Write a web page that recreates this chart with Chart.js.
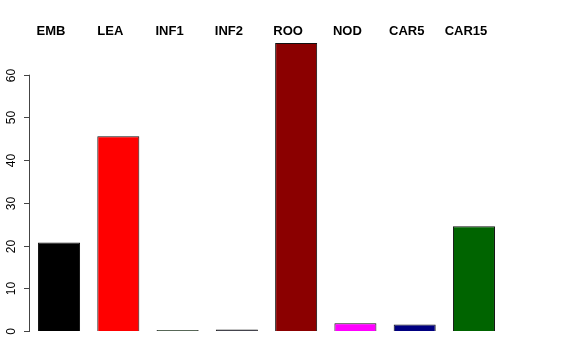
<!DOCTYPE html>
<html>
<head>
<meta charset="utf-8">
<script src="https://cdn.jsdelivr.net/npm/chart.js@4"></script>
<style>
  html, body { margin: 0; padding: 0; background: #fff; }
  #wrap { width: 576px; height: 360px; }
</style>
</head>
<body>
<div id="wrap"><canvas id="chart" width="576" height="360"></canvas></div>
<script>
// data
var categorias = ["EMB", "LEA", "INF1", "INF2", "ROO", "NOD", "CAR5", "CAR15"];
var valores = [20.7, 45.6, 0.25, 0.35, 67.4, 1.8, 1.5, 24.5];
var cores = ["#000000", "#ff0000", "#2a4a2a", "#1a1a26", "#8b0000", "#ff00ff", "#000080", "#006400"];
var yTicks = [0, 10, 20, 30, 40, 50, 60];

// draws the R-style left axis and the row of labels at the top
var eixoR = {
    id: "eixoR",
    afterDraw: function(chart) {
        var ctx = chart.ctx;
        var y = chart.scales.y;
        var x = chart.scales.x;
        var x0 = 29;
        ctx.save();
        ctx.strokeStyle = "#444";
        ctx.lineWidth = 1;
        ctx.beginPath();
        ctx.moveTo(x0 + 0.5, y.getPixelForValue(yTicks[0]));
        ctx.lineTo(x0 + 0.5, y.getPixelForValue(yTicks[yTicks.length - 1]));
        ctx.stroke();
        ctx.fillStyle = "#000";
        ctx.font = "12px 'Liberation Sans', Arial, sans-serif";
        ctx.textAlign = "center";
        ctx.textBaseline = "middle";
        yTicks.forEach(function(t) {
            var py = Math.round(y.getPixelForValue(t)) + 0.5;
            ctx.beginPath();
            ctx.moveTo(x0 - 5, py);
            ctx.lineTo(x0 + 1, py);
            ctx.stroke();
            ctx.save();
            ctx.translate(12, py);
            ctx.rotate(-Math.PI / 2);
            ctx.fillText(String(t), 0, 0);
            ctx.restore();
        });
        // labels across the top
        ctx.font = "bold 13px 'Liberation Sans', Arial, sans-serif";
        ctx.textAlign = "center";
        ctx.textBaseline = "alphabetic";
        categorias.forEach(function(c, i) {
            ctx.fillText(c, x.getPixelForValue(i) - 8, 35);
        });
        ctx.restore();
    }
};

var ctx = document.getElementById("chart");
var grafico = new Chart(ctx, {
    type: "bar",
    data: {
        labels: categorias,
        datasets: [{
            data: valores,
            backgroundColor: cores,
            borderColor: "#111",
            borderWidth: 1,
            barPercentage: 0.709,
            categoryPercentage: 1.0
        }]
    },
    options: {
        responsive: false,
        animation: false,
        layout: { padding: { left: 29.4, right: 72.4, top: 32, bottom: 29 } },
        plugins: { legend: { display: false }, tooltip: { enabled: false } },
        scales: {
            x: { display: false },
            y: { display: false, min: 0, max: 70 }
        }
    },
    plugins: [eixoR]
});
</script>
</body>
</html>
